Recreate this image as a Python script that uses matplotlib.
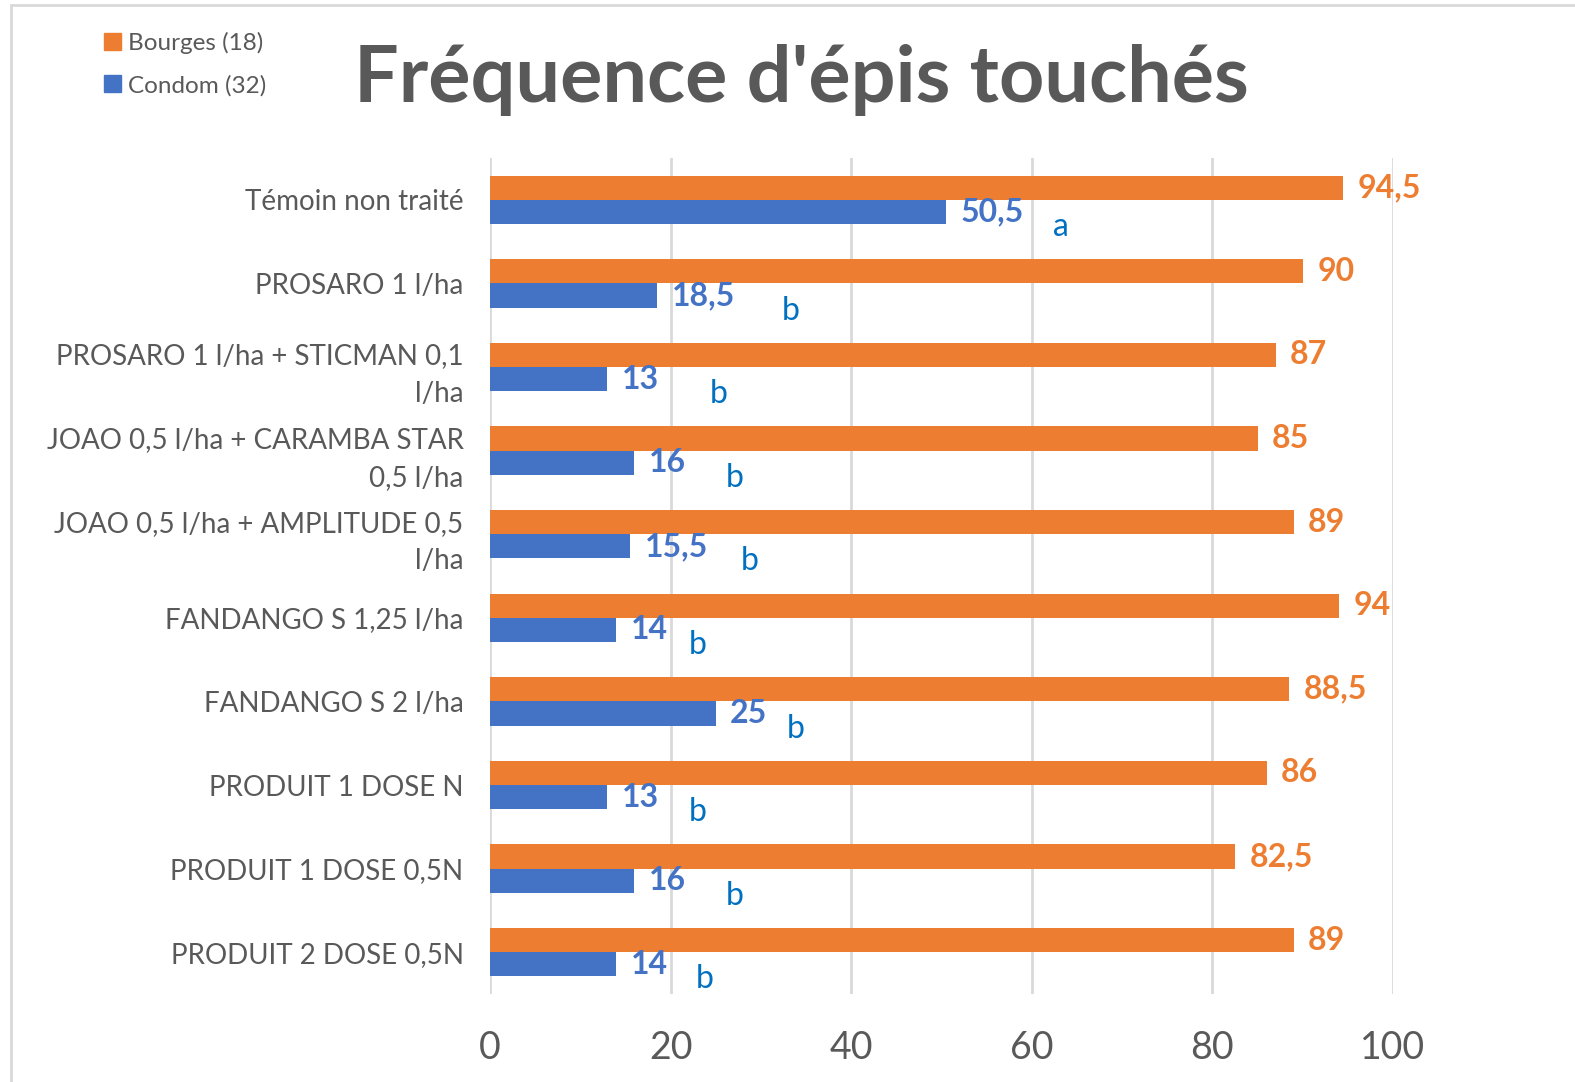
import matplotlib
matplotlib.use("Agg")
import matplotlib.pyplot as plt
import matplotlib.patches as mpatches
import numpy as np

# ── Data ─────────────────────────────────────────────────────────────────────
categories = [
    "Témoin non traité",
    "PROSARO 1 l/ha",
    "PROSARO 1 l/ha + STICMAN 0,1\nl/ha",
    "JOAO 0,5 l/ha + CARAMBA STAR\n0,5 l/ha",
    "JOAO 0,5 l/ha + AMPLITUDE 0,5\nl/ha",
    "FANDANGO S 1,25 l/ha",
    "FANDANGO S 2 l/ha",
    "PRODUIT 1 DOSE N",
    "PRODUIT 1 DOSE 0,5N",
    "PRODUIT 2 DOSE 0,5N",
]
bourges = [94.5, 90, 87, 85, 89, 94, 88.5, 86, 82.5, 89]
condom = [50.5, 18.5, 13, 16, 15.5, 14, 25, 13, 16, 14]
letters = ["a", "b", "b", "b", "b", "b", "b", "b", "b", "b"]
# x position (axis units) of the hand-placed significance letters
letter_x = [63.2, 33.3, 25.3, 27.1, 28.8, 23.0, 33.8, 23.0, 27.1, 23.8]

ORANGE = "#ED7D31"
BLUE = "#4472C4"
LETTER = "#0070C0"
GREY = "#595959"
FONT = ["Lato", "DejaVu Sans"]

plt.rcParams["font.family"] = FONT

fig = plt.figure(figsize=(15.75, 10.82), dpi=100)
ax = fig.add_axes([490 / 1575, 1 - 994 / 1082, (1393 - 490) / 1575, (994 - 158) / 1082])

y = np.arange(len(categories))
h = 0.29
ax.barh(y - h / 2, bourges, h, color=ORANGE, zorder=3)
ax.barh(y + h / 2, condom, h, color=BLUE, zorder=3)

for i in range(len(categories)):
    ax.text(bourges[i] + 1.6, y[i] - h / 2, f"{bourges[i]:g}".replace(".", ","),
            ha="left", va="center", fontsize=23, fontweight="bold", color=ORANGE)
    ax.text(condom[i] + 1.6, y[i] + h / 2, f"{condom[i]:g}".replace(".", ","),
            ha="left", va="center", fontsize=23, fontweight="bold", color=BLUE)
    ax.text(letter_x[i], y[i] + h / 2 + 0.18, letters[i], ha="center", va="center",
            fontsize=23, color=LETTER)

ax.set_xlim(0, 100)
ax.set_ylim(len(categories) - 0.5, -0.5)
ax.set_xticks(np.arange(0, 101, 20))
ax.set_yticks(y)
ax.set_yticklabels(categories, fontsize=20, color=GREY, linespacing=1.55)
ax.tick_params(axis="x", labelsize=27, labelcolor=GREY, length=0, pad=26)
ax.tick_params(axis="y", length=0, pad=19)
ax.grid(axis="x", color="#D9D9D9", linewidth=2, zorder=0)
for s in ax.spines.values():
    s.set_visible(False)

fig.text(801 / 1575, 1 - 80 / 1082, "Fréquence d'épis touchés", ha="center", va="center",
         fontsize=57, fontweight="bold", color=GREY)

handles = [mpatches.Patch(color=ORANGE, label="Bourges (18)"),
           mpatches.Patch(color=BLUE, label="Condom (32)")]
fig.legend(handles=handles, loc="upper left", bbox_to_anchor=(82 / 1575, 1 - 10 / 1082),
           frameon=False, fontsize=17.5, labelcolor=GREY, handlelength=0.7, handleheight=0.7,
           handletextpad=0.3, labelspacing=0.85)

# chart border (light grey frame)
fig.add_artist(mpatches.Rectangle((11 / 1575, -0.01), 1.2, 1 - 5 / 1082 + 0.01,
                                  transform=fig.transFigure, fill=False,
                                  edgecolor="#D9D9D9", linewidth=2))

fig.savefig("out.png", dpi=100)
